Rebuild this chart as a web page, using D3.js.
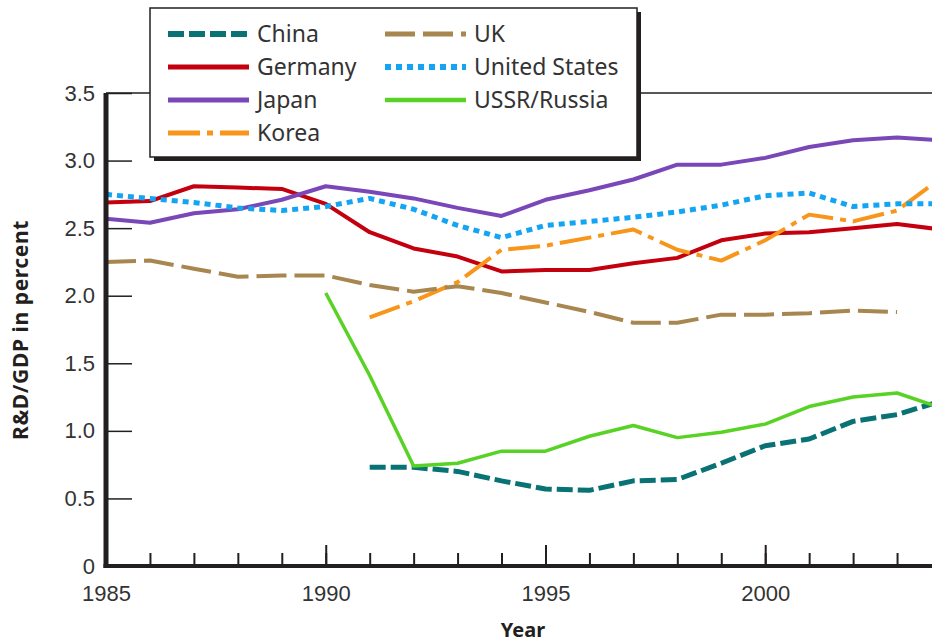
<!DOCTYPE html>
<html>
<head>
<meta charset="utf-8">
<script src="https://cdn.jsdelivr.net/npm/d3@7"></script>
<style>
  body { margin: 0; background: #fff; }
  svg { display: block; font-family: "Noto Sans", sans-serif; }
</style>
</head>
<body>
<div id="canvas"></div>
<script>
const years = d3.range(1985, 2005);

// R&D as percent of GDP (null = no data)
const china = [null, null, null, null, null, null, 0.73, 0.73, 0.70, 0.63, 0.57, 0.56, 0.63, 0.64, 0.76, 0.89, 0.94, 1.07, 1.12, 1.22];
const germany = [2.69, 2.70, 2.81, 2.80, 2.79, 2.68, 2.47, 2.35, 2.29, 2.18, 2.19, 2.19, 2.24, 2.28, 2.41, 2.46, 2.47, 2.50, 2.53, 2.49];
const japan = [2.57, 2.54, 2.61, 2.64, 2.71, 2.81, 2.77, 2.72, 2.65, 2.59, 2.71, 2.78, 2.86, 2.97, 2.97, 3.02, 3.10, 3.15, 3.17, 3.15];
const korea = [null, null, null, null, null, null, 1.84, 1.96, 2.10, 2.34, 2.37, 2.43, 2.49, 2.34, 2.26, 2.41, 2.60, 2.55, 2.63, 2.87];
const uk = [2.25, 2.26, 2.20, 2.14, 2.15, 2.15, 2.08, 2.03, 2.07, 2.02, 1.95, 1.88, 1.80, 1.80, 1.86, 1.86, 1.87, 1.89, 1.88, null];
const us = [2.75, 2.72, 2.69, 2.65, 2.63, 2.66, 2.72, 2.64, 2.52, 2.43, 2.52, 2.55, 2.58, 2.62, 2.67, 2.74, 2.76, 2.66, 2.68, 2.68];
const russia = [null, null, null, null, null, 2.02, 1.41, 0.74, 0.76, 0.85, 0.85, 0.96, 1.04, 0.95, 0.99, 1.05, 1.18, 1.25, 1.28, 1.17];

const yTicks = [0, 0.5, 1.0, 1.5, 2.0, 2.5, 3.0, 3.5];
const xTicks = [1985, 1990, 1995, 2000];

const series = [
  { name: "China", values: china, color: "#087274", width: 5, dash: "16,5" },
  { name: "Germany", values: germany, color: "#c4000f", width: 4, dash: null },
  { name: "Japan", values: japan, color: "#7a47b8", width: 4, dash: null },
  { name: "Korea", values: korea, color: "#f7961a", width: 4, dash: "32,7,6,7" },
  { name: "UK", values: uk, color: "#a88650", width: 4, dash: "30,8" },
  { name: "United States", values: us, color: "#13a4f2", width: 5, dash: "6,5" },
  { name: "USSR/Russia", values: russia, color: "#58d224", width: 3.5, dash: null }
];

const W = 932, H = 643;
const ink = "#231f20";

const svg = d3.select("#canvas").append("svg")
  .attr("width", W)
  .attr("height", H);

const x = d3.scaleLinear().domain([1985, 2004]).range([106, 941]);
const y = d3.scaleLinear().domain([0, 3.5]).range([566, 93]);

// top frame line
svg.append("line")
  .attr("x1", x(1985)).attr("x2", W)
  .attr("y1", y(3.5)).attr("y2", y(3.5))
  .attr("stroke", ink).attr("stroke-width", 1.5);

// lines
const line = d3.line()
  .defined(d => d.v != null)
  .x(d => x(d.year))
  .y(d => y(d.v));

const plot = svg.append("g");
series.forEach(s => {
  plot.append("path")
    .datum(years.map((yr, i) => ({ year: yr, v: s.values[i] })))
    .attr("d", line)
    .attr("fill", "none")
    .attr("stroke", s.color)
    .attr("stroke-width", s.width)
    .attr("stroke-dasharray", s.dash)
    .attr("stroke-linejoin", "round");
});

// y axis
const yAxis = svg.append("g")
  .attr("transform", `translate(${x(1985)},0)`)
  .call(d3.axisLeft(y).tickValues(yTicks).tickSize(-26).tickPadding(11)
    .tickFormat(d => d === 0 ? "0" : d3.format(".1f")(d)));
yAxis.select(".domain").remove();
yAxis.selectAll(".tick line").attr("stroke", ink).attr("stroke-width", 1.5);
yAxis.selectAll(".tick text").attr("fill", "#333").style("font-size", "22px");

// x axis: minor then major ticks
const xMinor = svg.append("g")
  .attr("transform", `translate(0,${y(0)})`)
  .call(d3.axisBottom(x).tickValues(years).tickSize(-13).tickFormat(""));
xMinor.select(".domain").remove();
xMinor.selectAll(".tick line").attr("stroke", ink).attr("stroke-width", 2);

const xAxis = svg.append("g")
  .attr("transform", `translate(0,${y(0)})`)
  .call(d3.axisBottom(x).tickValues(xTicks).tickSize(-21).tickPadding(19).tickFormat(d3.format("d")));
xAxis.select(".domain").remove();
xAxis.selectAll(".tick line").attr("stroke", ink).attr("stroke-width", 2);
xAxis.selectAll(".tick text").attr("fill", "#333").style("font-size", "22px");

// thick axis lines
svg.append("line")
  .attr("x1", x(1985)).attr("x2", x(1985))
  .attr("y1", y(3.5)).attr("y2", y(0) + 2)
  .attr("stroke", ink).attr("stroke-width", 5);
svg.append("line")
  .attr("x1", x(1985) - 2.5).attr("x2", W)
  .attr("y1", y(0)).attr("y2", y(0))
  .attr("stroke", ink).attr("stroke-width", 4);

// axis titles
svg.append("text")
  .attr("transform", `translate(28,330) rotate(-90)`)
  .attr("text-anchor", "middle")
  .attr("fill", ink)
  .style("font-size", "21px")
  .style("font-weight", "bold")
  .style("letter-spacing", "0.6px")
  .text("R&D/GDP in percent");

svg.append("text")
  .attr("x", 523).attr("y", 637)
  .attr("text-anchor", "middle")
  .attr("fill", ink)
  .style("font-size", "20px")
  .style("font-weight", "bold")
  .text("Year");

// legend
const legend = svg.append("g").attr("transform", "translate(150,8)");
legend.append("rect")
  .attr("x", 4).attr("y", 4).attr("width", 487).attr("height", 149)
  .attr("fill", ink);
legend.append("rect")
  .attr("width", 487).attr("height", 149)
  .attr("fill", "#fff").attr("stroke", ink).attr("stroke-width", 1.5);

const legendOrder = ["China", "Germany", "Japan", "Korea", "UK", "United States", "USSR/Russia"];
legendOrder.forEach((name, i) => {
  const s = series.find(d => d.name === name);
  const col = i < 4 ? 0 : 1;
  const row = i < 4 ? i : i - 4;
  const g = legend.append("g")
    .attr("transform", `translate(${col === 0 ? 18 : 235},${26 + row * 33})`);
  g.append("line")
    .attr("x1", 0).attr("x2", 81)
    .attr("stroke", s.color)
    .attr("stroke-width", s.width + 1)
    .attr("stroke-dasharray", s.dash);
  g.append("text")
    .attr("x", 89).attr("y", 0)
    .attr("dy", "0.35em")
    .attr("fill", "#333")
    .style("font-size", "23px")
    .text(name);
});
</script>
</body>
</html>
